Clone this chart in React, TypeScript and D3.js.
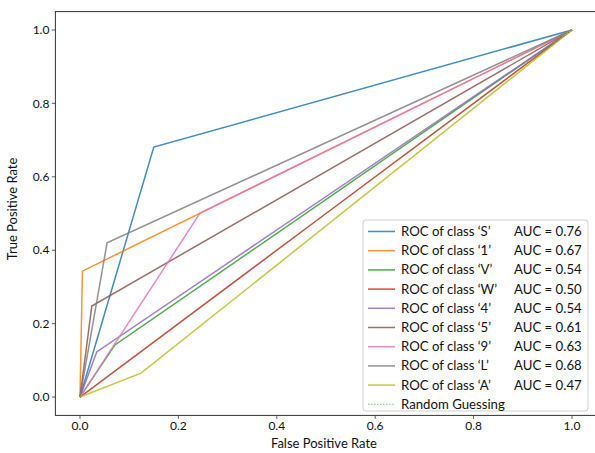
import React from "react";
import * as d3 from "d3";

const classNames = ["S", "1", "V", "W", "4", "5", "9", "L", "A"];
const fprKink = [0.15, 0.005, 0.071, 0.5, 0.034, 0.024, 0.244, 0.055, 0.124];
const tprKink = [0.681, 0.343, 0.142, 0.5, 0.123, 0.248, 0.501, 0.42, 0.065];
const aucValues = ["0.76", "0.67", "0.54", "0.50", "0.54", "0.61", "0.63", "0.68", "0.47"];
const colors = ["#1f77b4", "#ff7f0e", "#2ca02c", "#d62728", "#9467bd", "#8c564b", "#e377c2", "#7f7f7f", "#bcbd22"];
const tickValues = [0, 0.2, 0.4, 0.6, 0.8, 1.0];

const W = 595, H = 453;
const FONT = "Lato, 'Open Sans', sans-serif";

export default function App() {
  const x = d3.scaleLinear().domain([-0.05, 1.05]).range([55.4, 596.6]);
  const y = d3.scaleLinear().domain([-0.05, 1.05]).range([415.4, 11.6]);
  const line = d3.line<[number, number]>().x(d => x(d[0])).y(d => y(d[1]));
  const curves = classNames.map((c, i) => [[0, 0], [fprKink[i], tprKink[i]], [1, 1]] as [number, number][]);

  const legX = 363, legY = 220, legW = 225, legH = 191, rowH = 19.2;

  return (
    <svg width={W} height={H} style={{ position: "absolute", left: 0, top: 0, background: "#fff" }} fontFamily={FONT}>
      <rect x={0} y={0} width={W} height={H} fill="#fff" />
      {curves.map((pts, i) => (
        <path key={i} d={line(pts) || ""} fill="none" stroke={colors[i]} strokeWidth={1.5} strokeOpacity={0.85} />
      ))}
      <path d={line([[0, 0], [1, 1]]) || ""} fill="none" stroke="#2ca02c" strokeWidth={1} strokeDasharray="1.5,1.5" strokeOpacity={0.6} />
      {/* frame */}
      <rect x={x(-0.05)} y={y(1.05)} width={x(1.05) - x(-0.05)} height={y(-0.05) - y(1.05)} fill="none" stroke="#333" strokeWidth={1} />
      {/* x ticks */}
      {tickValues.map(t => (
        <g key={"x" + t}>
          <line x1={x(t)} x2={x(t)} y1={y(-0.05)} y2={y(-0.05) + 3.5} stroke="#333" strokeWidth={0.8} />
          <text x={x(t)} y={430} textAnchor="middle" fontSize={12} fill="#111">{t.toFixed(1)}</text>
        </g>
      ))}
      {tickValues.map(t => (
        <g key={"y" + t}>
          <line x1={x(-0.05) - 3.5} x2={x(-0.05)} y1={y(t)} y2={y(t)} stroke="#333" strokeWidth={0.8} />
          <text x={x(-0.05) - 6} y={y(t) + 4.2} textAnchor="end" fontSize={12} fill="#111">{t.toFixed(1)}</text>
        </g>
      ))}
      <text x={324} y={448} textAnchor="middle" fontSize={13} fill="#111">False Positive Rate</text>
      <text transform={`translate(17,209) rotate(-90)`} textAnchor="middle" fontSize={13} fill="#111">True Positive Rate</text>
      {/* legend */}
      <rect x={legX} y={legY} width={legW} height={legH} rx={3} fill="#fff" fillOpacity={0.8} stroke="#d0d0d0" strokeWidth={1} />
      {classNames.map((c, i) => {
        const cy = legY + 11.5 + i * rowH;
        return (
          <g key={"l" + c}>
            <line x1={legX + 5} x2={legX + 32} y1={cy} y2={cy} stroke={colors[i]} strokeWidth={1.5} strokeOpacity={0.85} />
            <text x={legX + 38} y={cy + 4.5} fontSize={13.2} fill="#111">{`ROC of class \u2018${c}\u2019`}</text>
            <text x={legX + 151} y={cy + 4.5} fontSize={13.2} fill="#111">{`AUC = ${aucValues[i]}`}</text>
          </g>
        );
      })}
      {(() => {
        const cy = legY + 11.5 + 9 * rowH;
        return (
          <g>
            <line x1={legX + 5} x2={legX + 32} y1={cy} y2={cy} stroke="#2ca02c" strokeWidth={1} strokeDasharray="1.5,1.5" strokeOpacity={0.6} />
            <text x={legX + 38} y={cy + 4.5} fontSize={13.2} fill="#111">Random Guessing</text>
          </g>
        );
      })()}
    </svg>
  );
}
